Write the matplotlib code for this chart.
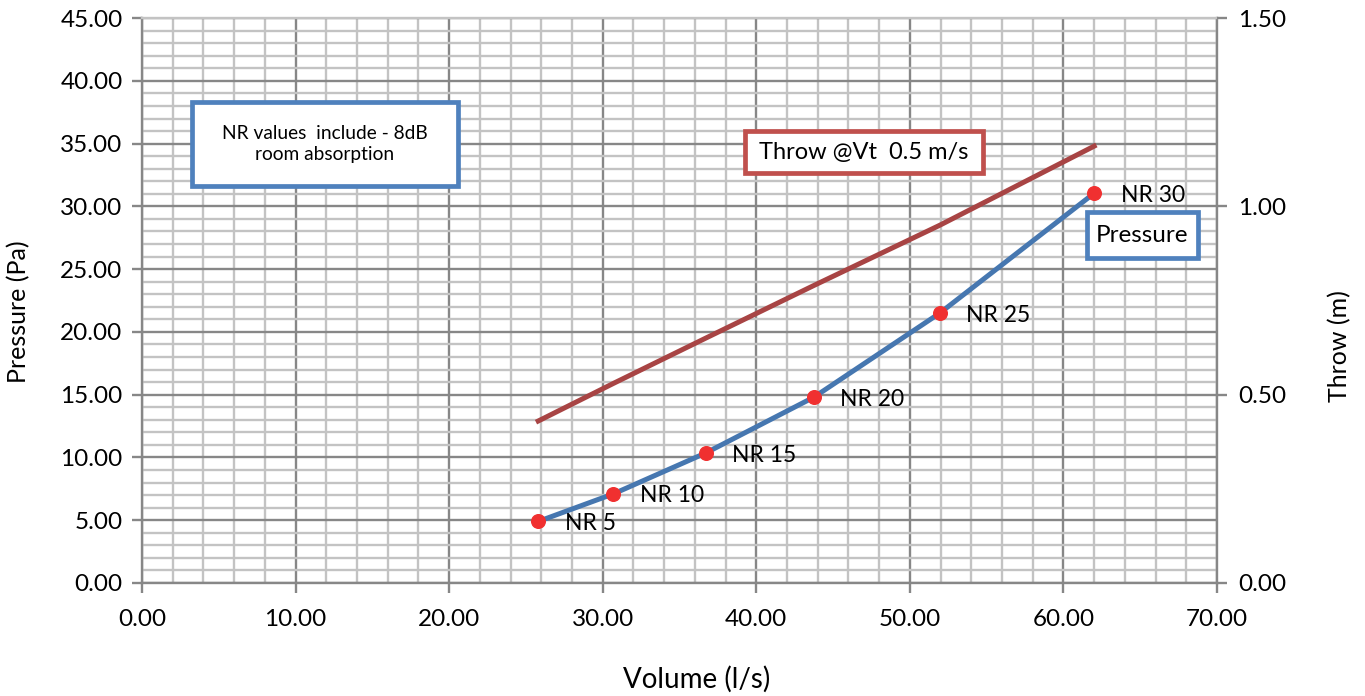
import matplotlib
matplotlib.use("Agg")
import matplotlib.pyplot as plt
from matplotlib.patches import Rectangle
from matplotlib.ticker import MultipleLocator, FormatStrFormatter

# ---- data ----
volume = [25.8, 30.7, 36.7, 43.75, 51.95, 62.0]
pressure = [4.9, 7.1, 10.35, 14.8, 21.5, 31.05]
nr_labels = ["NR 5", "NR 10", "NR 15", "NR 20", "NR 25", "NR 30"]
throw = [0.43, 0.53, 0.65, 0.79, 0.95, 1.16]

x_label = "Volume (l/s)"
y_label = "Pressure (Pa)"
y2_label = "Throw (m)"
note_text = "NR values  include - 8dB\nroom absorption"
throw_text = "Throw @Vt  0.5 m/s"
pressure_text = "Pressure"

plt.rcParams['font.family'] = ['Lato', 'DejaVu Sans']

fig = plt.figure(figsize=(13.65, 6.96), dpi=100)
ax = fig.add_axes([0.104, 0.1624, 0.7876, 0.8116])

major_c = "#878787"
minor_c = "#c3c3c3"

ax.set_xlim(0, 70)
ax.set_ylim(0, 45)
ax.xaxis.set_major_locator(MultipleLocator(10))
ax.xaxis.set_minor_locator(MultipleLocator(2))
ax.yaxis.set_major_locator(MultipleLocator(5))
ax.yaxis.set_minor_locator(MultipleLocator(1))
ax.xaxis.set_major_formatter(FormatStrFormatter('%.2f'))
ax.yaxis.set_major_formatter(FormatStrFormatter('%.2f'))
ax.grid(which='minor', color=minor_c, linewidth=1.7, zorder=0)
ax.grid(which='major', color=major_c, linewidth=1.7, zorder=0)
ax.set_axisbelow(True)
ax.tick_params(which='minor', length=0)
ax.tick_params(axis='y', which='major', length=7, width=1.7, color=major_c,
               labelsize=17.5, pad=7)
ax.tick_params(axis='x', which='major', length=7, width=1.7, color=major_c,
               labelsize=17.5, pad=12)
for s in ax.spines.values():
    s.set_color(major_c)
    s.set_linewidth(1.7)
ax.spines['top'].set_color(minor_c)

ax2 = ax.twinx()
ax2.set_ylim(0, 1.5)
ax2.yaxis.set_major_locator(MultipleLocator(0.5))
ax2.yaxis.set_major_formatter(FormatStrFormatter('%.2f'))
ax2.tick_params(which='major', length=7, width=1.7, color=major_c,
                labelsize=17.5, pad=8)
for s in ax2.spines.values():
    s.set_visible(False)

ax.plot(volume, pressure, color="#4677b0", linewidth=3.6, zorder=3,
        solid_capstyle='butt')
ax.plot(volume, pressure, linestyle='none', marker='o', markersize=9.8,
        color="#f03030", zorder=4)
ax2.plot(volume, throw, color="#a84444", linewidth=3.6, zorder=3)

for xv, yv, lab in zip(volume, pressure, nr_labels):
    ax.annotate(lab, (xv, yv), xytext=(19, -1.5), textcoords='offset points',
                ha='left', va='center', fontsize=16.5, zorder=5)

ax.set_xlabel(x_label, fontsize=20)
ax.set_ylabel(y_label, fontsize=18)
ax2.set_ylabel(y2_label, fontsize=18)
ax.xaxis.set_label_coords(0.516, -0.147)
ax.yaxis.set_label_coords(-0.104, 0.48)
ax2.yaxis.set_label_coords(1.103, 0.42)


def box(x0, y0, x1, y1, color, text, fs):
    r = Rectangle((x0, y0), x1 - x0, y1 - y0, transform=ax.transAxes,
                  facecolor='white', edgecolor=color, linewidth=3.4,
                  zorder=6, clip_on=False)
    ax2.add_patch(r)
    r.set_transform(ax.transAxes)
    ax2.text((x0 + x1) / 2, (y0 + y1) / 2, text, transform=ax.transAxes,
             ha='center', va='center', fontsize=fs, zorder=7,
             linespacing=1.25)


box(0.0465, 0.7027, 0.294, 0.8513, "#4f81bd", note_text, 13.8)
box(0.561, 0.7257, 0.782, 0.800, "#c0504d", throw_text, 17)
box(0.879, 0.575, 0.982, 0.6566, "#4f81bd", pressure_text, 17.5)

fig.savefig("out.png", dpi=100)
